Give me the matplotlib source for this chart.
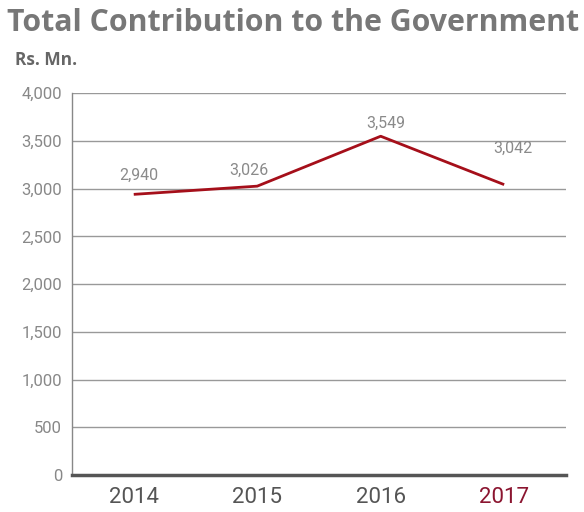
import matplotlib.pyplot as plt
from matplotlib.ticker import FuncFormatter

years = ['2014', '2015', '2016', '2017']
values = [2940, 3026, 3549, 3042]
y_ticks = [0, 500, 1000, 1500, 2000, 2500, 3000, 3500, 4000]

fig = plt.figure(figsize=(5.84, 5.12), dpi=100)
ax = fig.add_axes([0.1233, 0.0723, 0.8457, 0.7457])

ax.plot(range(len(years)), values, color='#a50f1a', linewidth=2, solid_capstyle='butt')

# labels above each point (last one sits a bit higher)
offsets = [(4, 8), (-6, 6), (4, 4), (6, 21)]
for i, v in enumerate(values):
    ax.annotate('{:,}'.format(v), (i, v), xytext=offsets[i], textcoords='offset points',
                ha='center', va='bottom', fontsize=11.5, color='#8a8a8a', family='Roboto')

ax.set_xlim(-0.5, 3.5)
ax.set_ylim(0, 4000)
ax.set_yticks(y_ticks)
ax.yaxis.set_major_formatter(FuncFormatter(lambda v, p: '{:,}'.format(int(v))))
ax.set_xticks(range(len(years)))
ax.set_xticklabels(years)

ax.grid(axis='y', color='#999999', linewidth=1)
ax.set_axisbelow(True)
for s in ['top', 'right']:
    ax.spines[s].set_visible(False)
ax.spines['left'].set_color('#888888')
ax.spines['left'].set_linewidth(1)
ax.spines['bottom'].set_color('#555555')
ax.spines['bottom'].set_linewidth(2.5)

ax.tick_params(axis='y', length=0, pad=7, labelsize=12, labelcolor='#888888')
ax.tick_params(axis='x', length=0, pad=9, labelsize=16, labelcolor='#555555')
for lab in ax.get_yticklabels():
    lab.set_family('Roboto')
for lab in ax.get_xticklabels():
    lab.set_family('Roboto')
ax.get_xticklabels()[-1].set_color('#8b1530')

fig.text(0.012, 0.955, 'Total Contribution to the Government', fontsize=21.8, fontweight='bold',
         color='#777777', family='Open Sans', va='center', ha='left')
fig.text(0.026, 0.882, 'Rs. Mn.', fontsize=12.5, fontweight='bold', color='#666666',
         family='Open Sans', va='center', ha='left')

fig.savefig('out.png', dpi=100)
